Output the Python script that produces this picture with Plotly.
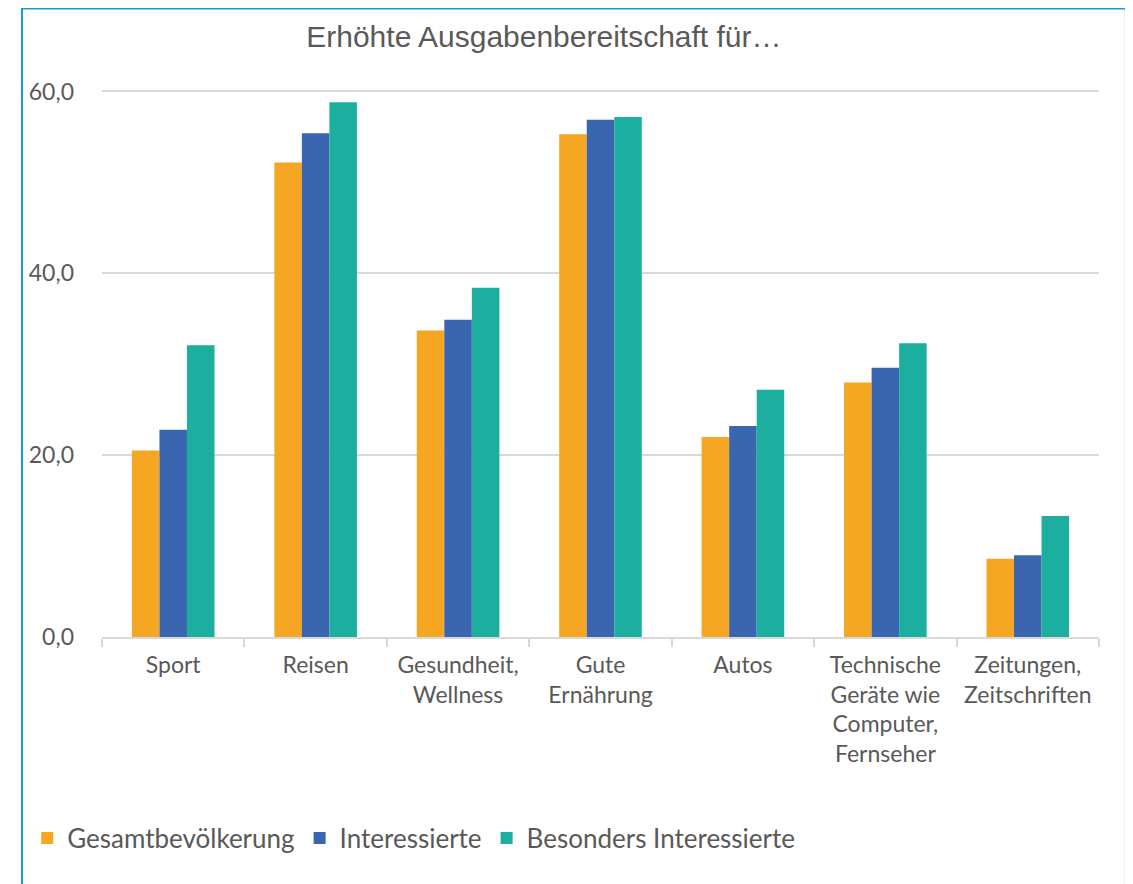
import plotly.graph_objects as go

categories = [
    "Sport",
    "Reisen",
    "Gesundheit,<br>Wellness",
    "Gute<br>Ernährung",
    "Autos",
    "Technische<br>Geräte wie<br>Computer,<br>Fernseher",
    "Zeitungen,<br>Zeitschriften",
]
gesamt = [20.5, 52.2, 33.7, 55.3, 22.0, 28.0, 8.6]
interessierte = [22.8, 55.4, 34.9, 56.9, 23.2, 29.6, 9.0]
besonders = [32.1, 58.8, 38.4, 57.2, 27.2, 32.3, 13.3]

series = [
    ("Gesamtbevölkerung", gesamt, "#f5a623"),
    ("Interessierte", interessierte, "#3a66b0"),
    ("Besonders Interessierte", besonders, "#1cae9f"),
]

fig = go.Figure()
for name, vals, color in series:
    fig.add_trace(go.Bar(x=categories, y=vals, name=name, marker_color=color, marker_line_width=0))

grey = "#595959"
fig.update_layout(
    width=1133,
    height=884,
    plot_bgcolor="white",
    paper_bgcolor="white",
    font=dict(family="Lato", size=23, color=grey),
    separators=",.",
    barmode="group",
    bargap=0.42,
    bargroupgap=0,
    margin=dict(l=94, r=42, t=78, b=255),
    title=dict(
        text="Erhöhte Ausgabenbereitschaft für…",
        font=dict(family="Liberation Sans", size=30, color=grey),
        xref="container", x=0.473, xanchor="center",
        yref="container", y=0.968, yanchor="middle",
    ),
    legend=dict(
        orientation="h",
        x=-0.075, xanchor="left",
        y=-0.365, yanchor="middle",
        font=dict(size=26, color=grey),
        itemwidth=30,
        tracegroupgap=0,
    ),
    xaxis=dict(
        showline=True, linecolor="#d9d9d9", linewidth=2,
        ticks="outside", tickson="boundaries", ticklen=8, tickcolor="#d9d9d9", tickwidth=2,
        ticklabelstandoff=6,
        tickfont=dict(size=23, color=grey),
    ),
    yaxis=dict(
        range=[0, 60.6],
        tickvals=[0, 20, 40, 60],
        tickformat=".1f",
        showgrid=True, gridcolor="#d9d9d9", gridwidth=2,
        zeroline=False,
        ticklabelstandoff=27,
        tickfont=dict(size=23, color=grey),
    ),
    shapes=[
        dict(
            type="rect", xref="paper", yref="paper",
            x0=-0.0802, x1=1.027, y0=-0.5, y1=1.1408,
            line=dict(color="#1a9ad6", width=2), fillcolor="rgba(0,0,0,0)",
            layer="below",
        )
    ],
)

fig.write_html("out.html")
